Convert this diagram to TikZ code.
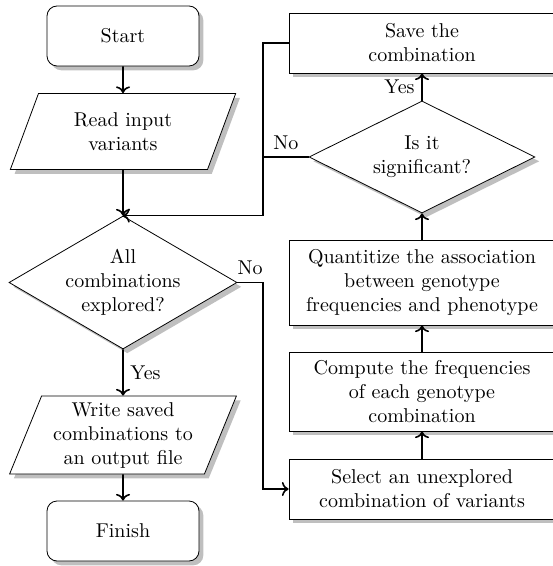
\documentclass[tikz,border=0pt]{standalone}
\usetikzlibrary{shapes.geometric,shadows,arrows.meta}
\tikzset{
  base/.style={draw, fill=white, drop shadow, align=center},
  term/.style={base, rectangle, rounded corners=5pt, minimum width=76pt, minimum height=30pt},
  io/.style={base, trapezium, trapezium left angle=68, trapezium right angle=112,
     trapezium stretches=true, minimum width=113.5pt, minimum height=38pt, inner sep=1pt},
  proc/.style={base, rectangle, text width=126pt, inner xsep=3.5pt, inner ysep=2pt},
  decision/.style={base, diamond, inner sep=-3pt, shape aspect=1.8},
  arrow/.style={thick, ->},
  plain/.style={thick}
}
\begin{document}
\begin{tikzpicture}[x=0.5pt,y=-0.5pt]
\useasboundingbox (0,0) rectangle (552,566);
\node[term] (start) at (123,36) {Start};
\node[io] (read) at (123,131.5) {Read input\\variants};
\node[decision, minimum width=114pt, minimum height=66.5pt] (all) at (123,282.5) {All\\combinations\\explored?};
\node[io, minimum height=39pt] (write) at (123,435) {Write saved\\combinations to\\an output file};
\node[term] (finish) at (123,531) {Finish};
\node[proc, minimum height=30pt] (save) at (422,43) {Save the\\combination};
\node[decision, minimum width=113pt, minimum height=56pt] (sig) at (422,157) {Is it\\significant?};
\node[proc, minimum height=42.5pt] (quant) at (422,282.5) {Quantitize the association\\between genotype\\frequencies and phenotype};
\node[proc, minimum height=39.5pt] (comp) at (422,391.5) {Compute the frequencies\\of each genotype\\combination};
\node[proc, minimum height=30pt] (select) at (422,489) {Select an unexplored\\combination of variants};
\coordinate (jx) at (263,0);

\draw[arrow] (start) -- (read);
\draw[arrow] (read) -- (all);
\draw[arrow] (all) -- node[right]{Yes} (write);
\draw[arrow] (write) -- (finish);
\draw[arrow] (select) -- (comp);
\draw[arrow] (comp) -- (quant);
\draw[arrow] (quant) -- (sig);
\draw[arrow] (sig) -- node[left]{Yes} (save);
\draw[arrow] (save.west) -- (save.west -| jx) |- (all.north);
\draw[plain] (sig.west) -- node[above]{No} (sig.west -| jx);
\draw[arrow] (all.east) -- node[above]{No} (all.east -| jx) |- (select.west);
\end{tikzpicture}
\end{document}
